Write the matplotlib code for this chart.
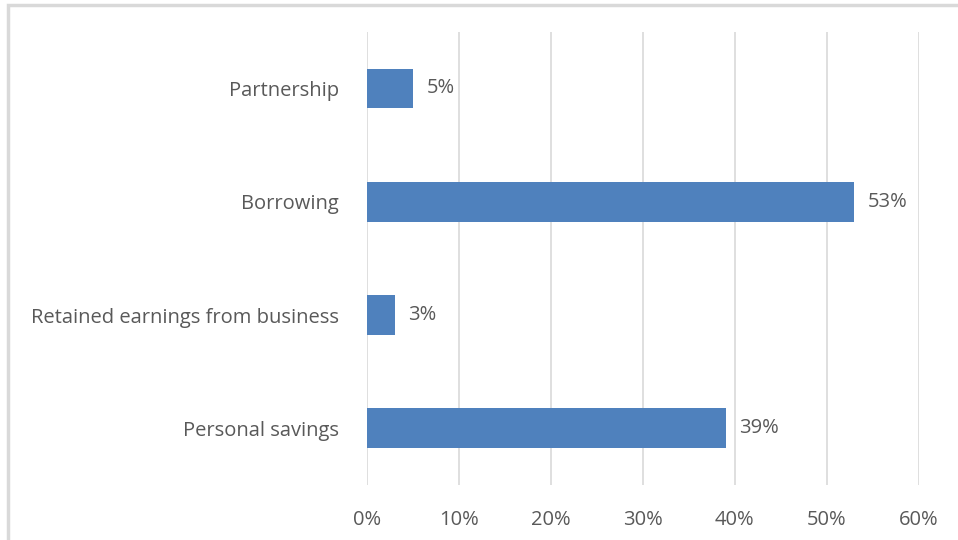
import matplotlib.pyplot as plt
from matplotlib.patches import Rectangle
from matplotlib.ticker import MultipleLocator, FuncFormatter

# sources of start-up funding, share of respondents (%)
categories = ["Personal savings", "Retained earnings from business", "Borrowing", "Partnership"]
shares = [39, 3, 53, 5]

bar_color = "#4F81BD"
text_color = "#595959"
grid_color = "#D9D9D9"

plt.rcParams['font.family'] = ['Open Sans', 'DejaVu Sans']

fig = plt.figure(figsize=(9.58, 5.4), dpi=100)
ax = fig.add_axes([0.383, 0.102, 0.576, 0.839])

# outer chart frame, open at the right and bottom edges
fig.patches.append(Rectangle((8 / 958, -0.05), 1.1, 1 - 5 / 540 + 0.05,
                             transform=fig.transFigure, fill=False,
                             edgecolor="#D9D9D9", linewidth=2.5))

ypos = range(len(categories))
ax.barh(ypos, shares, height=0.35, color=bar_color, zorder=3)

for y, v in zip(ypos, shares):
    ax.text(v + 1.5, y, f"{v}%", va="center", ha="left",
            fontsize=14.5, color=text_color)

ax.set_xlim(0, 60)
ax.set_ylim(-0.5, len(categories) - 0.5)
ax.xaxis.set_major_locator(MultipleLocator(10))
ax.xaxis.set_major_formatter(FuncFormatter(lambda x, _: f"{x:.0f}%"))
ax.set_yticks(list(ypos))
ax.set_yticklabels(categories)

ax.grid(axis="x", color=grid_color, linewidth=1.2, zorder=0)
for s in ax.spines.values():
    s.set_visible(False)
ax.tick_params(axis="both", length=0, labelsize=14.5, colors=text_color)
ax.tick_params(axis="x", pad=18)
ax.tick_params(axis="y", pad=20)

fig.savefig("out.png", dpi=100)
